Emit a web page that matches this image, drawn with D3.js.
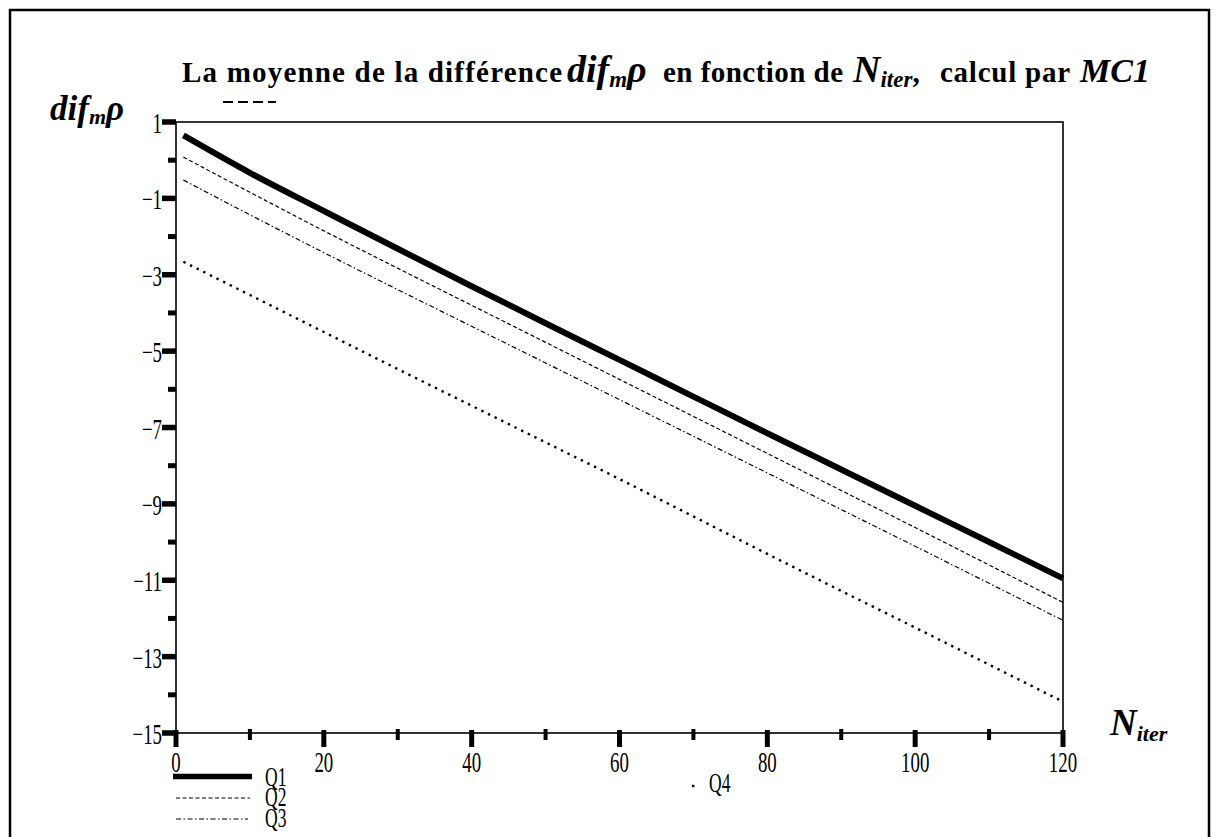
<!DOCTYPE html>
<html><head><meta charset="utf-8">
<script src="https://cdn.jsdelivr.net/npm/d3@7/dist/d3.min.js"></script>
<style>
html,body{margin:0;padding:0;background:#fff;}
svg{display:block;}
text{font-family:"Liberation Serif","Times New Roman",serif;fill:#000;}
</style></head>
<body>
<svg id="chart" width="1220" height="837"></svg>
<script>
// ---- data ----
const iterations = [1, 10, 20, 30, 40, 50, 60, 70, 80, 90, 100, 110, 120];
const seriesNames = ["Q1", "Q2", "Q3", "Q4"];
const q1 = [0.65, -0.33, -1.33, -2.32, -3.30, -4.27, -5.23, -6.19, -7.15, -8.10, -9.05, -10.00, -10.95];
const q2 = [0.08, -0.84, -1.85, -2.83, -3.80, -4.77, -5.74, -6.71, -7.68, -8.65, -9.62, -10.60, -11.58];
const q3 = [-0.52, -1.43, -2.42, -3.39, -4.35, -5.31, -6.27, -7.23, -8.19, -9.15, -10.11, -11.08, -12.05];
const q4 = [-2.66, -3.53, -4.50, -5.47, -6.43, -7.39, -8.35, -9.33, -10.31, -11.28, -12.24, -13.21, -14.18];
const yMajorTicks = [1, -1, -3, -5, -7, -9, -11, -13, -15];
const yTickLabels = ["1", "\u22121", "\u22123", "\u22125", "\u22127", "\u22129", "\u221211", "\u221213", "\u221215"];
const yMinorTicks = [0, -2, -4, -6, -8, -10, -12, -14];
const xMajorTicks = [0, 20, 40, 60, 80, 100, 120];
const xTickLabels = ["0", "20", "40", "60", "80", "100", "120"];
const xMinorTicks = [10, 30, 50, 70, 90, 110];

const svg = d3.select("#chart");
const x = d3.scaleLinear().domain([0, 120]).range([176, 1063]);
const y = d3.scaleLinear().domain([-15, 1]).range([733, 122]);

// outer frame
svg.append("rect").attr("x", 10).attr("y", 10).attr("width", 1199).attr("height", 900)
  .attr("fill", "none").attr("stroke", "#000").attr("stroke-width", 2.5);

// title (segments)
const TB = 82;
svg.append("text").attr("x", 182).attr("y", TB).attr("font-weight", "bold").attr("font-size", 29)
  .attr("textLength", 380).attr("lengthAdjust", "spacing").text("La moyenne de la différence");
const t2 = svg.append("text").attr("x", 567).attr("y", TB).attr("font-weight", "bold")
  .attr("font-style", "italic").attr("font-size", 38);
t2.append("tspan").text("dif");
t2.append("tspan").attr("font-size", 23).attr("dy", 5).text("m");
t2.append("tspan").attr("dy", -5).text("\u03C1");
svg.append("text").attr("x", 663).attr("y", TB).attr("font-weight", "bold").attr("font-size", 29)
  .attr("textLength", 180).attr("lengthAdjust", "spacing").text("en fonction de");
const t4 = svg.append("text").attr("x", 853).attr("y", TB).attr("font-weight", "bold")
  .attr("font-style", "italic").attr("font-size", 38);
t4.append("tspan").text("N");
t4.append("tspan").attr("font-size", 23).attr("dy", 5).text("iter");
t4.append("tspan").attr("dy", -5).attr("font-size", 29).attr("font-style", "normal").text(",");
svg.append("text").attr("x", 940).attr("y", TB).attr("font-weight", "bold").attr("font-size", 29)
  .attr("textLength", 130).attr("lengthAdjust", "spacing").text("calcul par");
svg.append("text").attr("x", 1080).attr("y", TB).attr("font-weight", "bold")
  .attr("font-style", "italic").attr("font-size", 34).text("MC1");

// y axis title
const yt = svg.append("text").attr("x", 50).attr("y", 120)
  .attr("font-weight", "bold").attr("font-style", "italic").attr("font-size", 35);
yt.append("tspan").text("dif");
yt.append("tspan").attr("font-size", 22).attr("dy", 4).text("m");
yt.append("tspan").attr("dy", -4).text("\u03C1");

// x axis title
const xt = svg.append("text").attr("x", 1110).attr("y", 735)
  .attr("font-weight", "bold").attr("font-style", "italic").attr("font-size", 37);
xt.append("tspan").text("N");
xt.append("tspan").attr("font-size", 22).attr("dy", 6).text("iter");

// stray dashes near top
svg.append("line").attr("x1", 223).attr("x2", 276).attr("y1", 102).attr("y2", 102)
  .attr("stroke", "#000").attr("stroke-width", 2).attr("stroke-dasharray", "10,5");

// plot frame
svg.append("rect").attr("x", x(0)).attr("y", y(1)).attr("width", x(120) - x(0)).attr("height", y(-15) - y(1))
  .attr("fill", "none").attr("stroke", "#000").attr("stroke-width", 1.6);

// y ticks
svg.append("g").selectAll("line").data(yMajorTicks).join("line")
  .attr("x1", x(0) - 14).attr("x2", x(0)).attr("y1", d => y(d)).attr("y2", d => y(d))
  .attr("stroke", "#000").attr("stroke-width", 5.5);
svg.append("g").selectAll("line").data(yMinorTicks).join("line")
  .attr("x1", x(0) - 8).attr("x2", x(0)).attr("y1", d => y(d)).attr("y2", d => y(d))
  .attr("stroke", "#000").attr("stroke-width", 5);
svg.append("g").selectAll("text").data(yMajorTicks).join("text")
  .attr("transform", d => `translate(${x(0) - 14},${y(d) + 11}) scale(0.65,1)`)
  .attr("text-anchor", "end").attr("font-size", 29)
  .text((d, i) => yTickLabels[i]);

// x ticks
svg.append("g").selectAll("line").data(xMajorTicks).join("line")
  .attr("x1", d => x(d)).attr("x2", d => x(d)).attr("y1", y(-15) - 3).attr("y2", y(-15) + 14)
  .attr("stroke", "#000").attr("stroke-width", 5);
svg.append("g").selectAll("line").data(xMinorTicks).join("line")
  .attr("x1", d => x(d)).attr("x2", d => x(d)).attr("y1", y(-15) - 4).attr("y2", y(-15) + 7)
  .attr("stroke", "#000").attr("stroke-width", 4);
svg.append("g").selectAll("text").data(xMajorTicks).join("text")
  .attr("transform", d => `translate(${x(d)},${y(-15) + 39}) scale(0.65,1)`)
  .attr("text-anchor", "middle").attr("font-size", 29)
  .text((d, i) => xTickLabels[i]);

// series
const seriesValues = [q1, q2, q3, q4];
const styles = [
  {w: 6, dash: null},
  {w: 1.2, dash: "4,2.5"},
  {w: 1.2, dash: "5,2.5,1.5,2.5"},
  {w: 2.4, dash: "2.4,5"}
];
const line = d3.line().x(d => x(d[0])).y(d => y(d[1])).curve(d3.curveMonotoneX);
seriesValues.forEach((vals, i) => {
  const pts = iterations.map((it, j) => [it, vals[j]]);
  const p = svg.append("path").datum(pts).attr("d", line)
    .attr("fill", "none").attr("stroke", "#000").attr("stroke-width", styles[i].w)
    .attr("stroke-linejoin", "round");
  if (styles[i].dash) p.attr("stroke-dasharray", styles[i].dash);
});

// legend
const legendPos = [
  {x1: 173, x2: 252, ly: 776.5, tx: 265, ty: 786},
  {x1: 176, x2: 250, ly: 798, tx: 265, ty: 806},
  {x1: 176, x2: 248, ly: 819, tx: 265, ty: 827},
  {x1: 692, x2: 694.4, ly: 786, tx: 709, ty: 792}
];
seriesNames.forEach((name, i) => {
  const lp = legendPos[i];
  const l = svg.append("line").attr("x1", lp.x1).attr("x2", lp.x2).attr("y1", lp.ly).attr("y2", lp.ly)
    .attr("stroke", "#000").attr("stroke-width", i === 0 ? 5.5 : styles[i].w);
  if (styles[i].dash && i !== 3) l.attr("stroke-dasharray", styles[i].dash);
  svg.append("text").attr("transform", `translate(${lp.tx},${lp.ty}) scale(0.65,1)`)
    .attr("font-size", 27).text(name);
});
</script>
</body></html>
